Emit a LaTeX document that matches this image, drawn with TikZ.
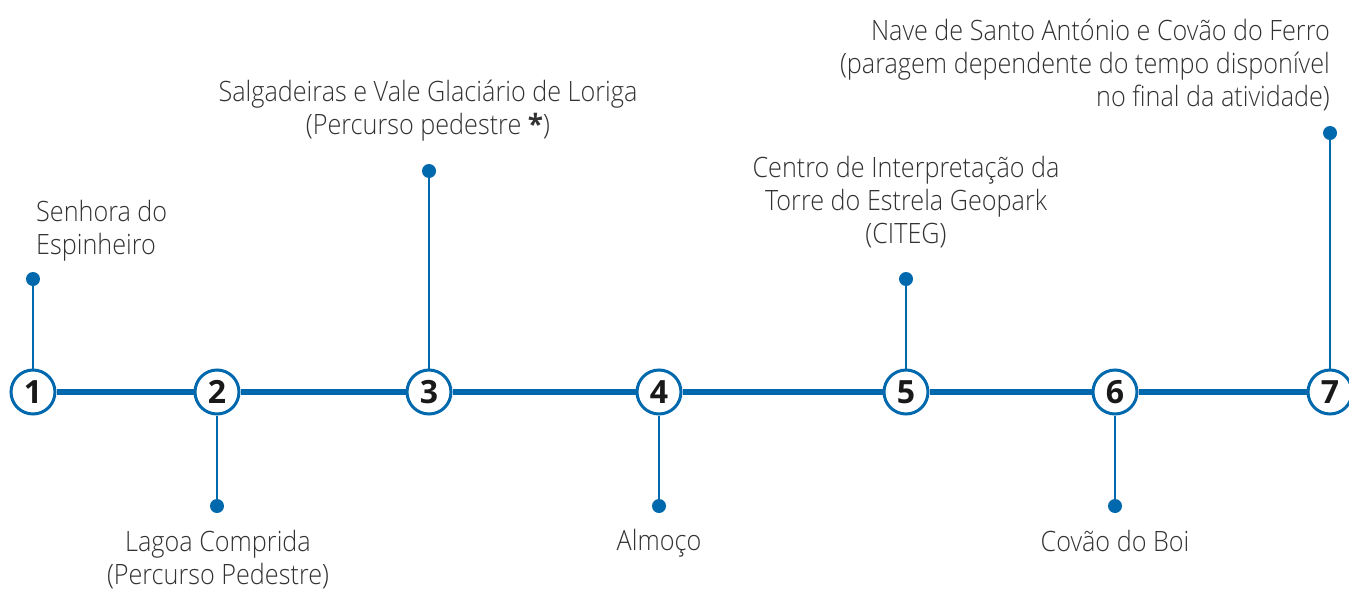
\documentclass[tikz,border=0pt]{standalone}
\usepackage{fontspec}
\IfFontExistsTF{Open Sans Light}{\setmainfont{Open Sans Light}[FakeStretch=0.9]}{\setmainfont{Open Sans}[FakeStretch=0.9]}
\newfontfamily\numfont{Open Sans}
\definecolor{tblue}{RGB}{0,104,172}
\definecolor{txtgray}{RGB}{50,50,50}
\tikzset{
  mainline/.style={line width=5.5pt, tblue},
  stem/.style={line width=2pt, tblue},
  stop/.style={circle, draw=tblue, line width=3pt, fill=white, minimum size=44pt, inner sep=0pt,
    font=\numfont\bfseries\fontsize{32}{32}\selectfont, text=black!90},
  dotend/.style={circle, fill=tblue, minimum size=14pt, inner sep=0pt},
  lbl/.style={font=\fontsize{28}{33}\selectfont, text=txtgray, inner sep=0pt}
}
\begin{document}
\begin{tikzpicture}[x=1pt,y=1pt]
\useasboundingbox (0,0) rectangle (1349,-589);
% stops
\node[stop] (s1) at (33,-392) {1};
\node[stop] (s2) at (217,-392) {2};
\node[stop] (s3) at (429,-392) {3};
\node[stop] (s4) at (659,-392) {4};
\node[stop] (s5) at (906,-392) {5};
\node[stop] (s6) at (1115,-392) {6};
\node[stop] (s7) at (1330,-392) {7};
\draw[mainline] (s1) -- (s2);
\draw[mainline] (s2) -- (s3);
\draw[mainline] (s3) -- (s4);
\draw[mainline] (s4) -- (s5);
\draw[mainline] (s5) -- (s6);
\draw[mainline] (s6) -- (s7);
% dots
\node[dotend] (d1) at (33,-279) {};
\node[dotend] (d2) at (217,-506) {};
\node[dotend] (d3) at (429,-171) {};
\node[dotend] (d4) at (659,-506) {};
\node[dotend] (d5) at (906,-279) {};
\node[dotend] (d6) at (1115,-506) {};
\node[dotend] (d7) at (1330,-133) {};
\draw[stem] (s1) -- (d1.center);
\draw[stem] (s2) -- (d2.center);
\draw[stem] (s3) -- (d3.center);
\draw[stem] (s4) -- (d4.center);
\draw[stem] (s5) -- (d5.center);
\draw[stem] (s6) -- (d6.center);
\draw[stem] (s7) -- (d7.center);
% labels (base anchor = baseline of the last line)
\node[lbl, anchor=base west, align=left] (t1) at (36,-254) {Senhora do\\Espinheiro};
\node[lbl, anchor=base, align=center] (t2) at (218,-584) {Lagoa Comprida\\(Percurso Pedestre)};
\node[lbl, anchor=base, align=center] (t3) at (428,-134) {Salgadeiras e Vale Glaciário de Loriga\\(Percurso pedestre {\numfont\bfseries *})};
\node[lbl, anchor=base] (t4) at (659,-550) {Almoço};
\node[lbl, anchor=base, align=center] (t5) at (906,-243) {Centro de Interpretação da\\Torre do Estrela Geopark\\(CITEG)};
\node[lbl, anchor=base] (t6) at (1115,-551) {Covão do Boi};
\node[lbl, anchor=base east, align=right] (t7) at (1330,-106) {Nave de Santo António e Covão do Ferro\\(paragem dependente do tempo disponível\\no final da atividade)};
\end{tikzpicture}
\end{document}
